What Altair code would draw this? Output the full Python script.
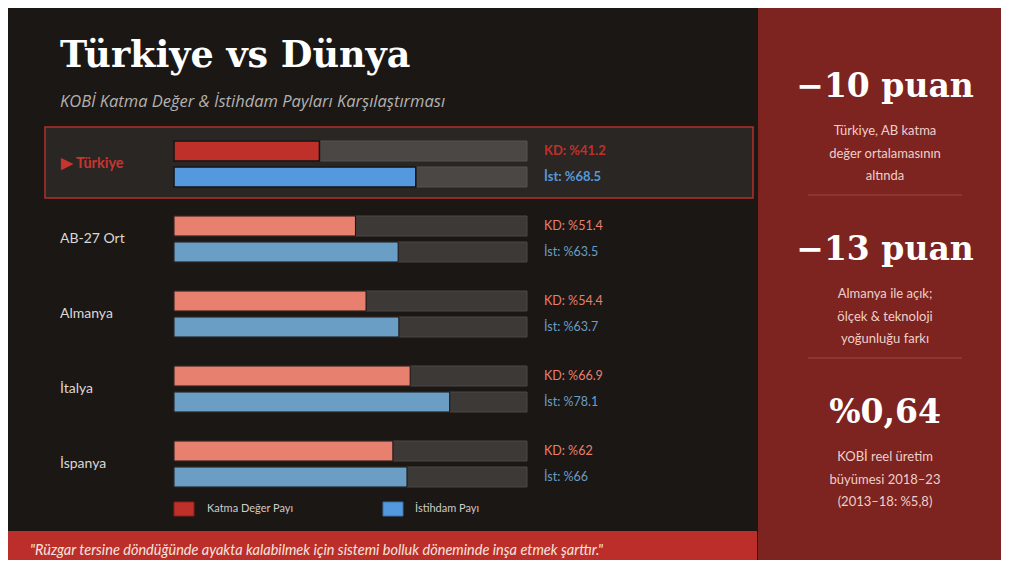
import altair as alt
import pandas as pd

# ---------------- data ----------------
countries = ["Türkiye", "AB-27 Ort", "Almanya", "İtalya", "İspanya"]
row_labels = ["▶ Türkiye", "AB-27 Ort", "Almanya", "İtalya", "İspanya"]
kd_share = [41.2, 51.4, 54.4, 66.9, 62]
ist_share = [68.5, 63.5, 63.7, 78.1, 66]
series = ["KD", "İst"]
legend_labels = ["Katma Değer Payı", "İstihdam Payı"]

title_text = "Türkiye vs Dünya"
subtitle_text = "KOBİ Katma Değer & İstihdam Payları Karşılaştırması"
quote_text = "\"Rüzgar tersine döndüğünde ayakta kalabilmek için sistemi bolluk döneminde inşa etmek şarttır.\""

kpi_values = ["−10 puan", "−13 puan", "%0,64"]
kpi_notes = [
    ["Türkiye, AB katma", "değer ortalamasının", "altında"],
    ["Almanya ile açık;", "ölçek & teknoloji", "yoğunluğu farkı"],
    ["KOBİ reel üretim", "büyümesi 2018–23", "(2013–18: %5,8)"],
]

# ---------------- tables ----------------
rows = []
for c, k, i in zip(countries, kd_share, ist_share):
    hl = c == "Türkiye"
    rows.append(dict(country=c, series="KD", value=k, full=100, hl=hl,
                     key=("KD_tr" if hl else "KD_o"), label=f"KD: %{k:g}"))
    rows.append(dict(country=c, series="İst", value=i, full=100, hl=hl,
                     key=("IST_tr" if hl else "IST_o"), label=f"İst: %{i:g}"))
df = pd.DataFrame(rows)
lab_df = pd.DataFrame({"country": countries, "label": row_labels,
                       "hl": [c == "Türkiye" for c in countries]})

one = pd.DataFrame({"k": [0]})

W, H = 993, 552
OFF = 8  # page margin


def X(x):
    return x - OFF


def Y(y):
    return y - OFF


SANS = "Lato"
SERIF = "DejaVu Serif"

color_scale = alt.Scale(domain=["KD_tr", "IST_tr", "KD_o", "IST_o"],
                        range=["#c0302a", "#5499dd", "#e8806f", "#6a9ec4"])
text_color_scale = alt.Scale(domain=["KD_tr", "IST_tr", "KD_o", "IST_o"],
                             range=["#c8352e", "#5aa0e6", "#e0806c", "#6a9ec4"])
x_scale = alt.Scale(domain=[0, 100], range=[X(174), X(527)], nice=False, zero=True)
y_scale = alt.Scale(domain=countries, range=[Y(126.5), Y(501.5)],
                    paddingInner=0, paddingOuter=0)
yoff_scale = alt.Scale(domain=series, paddingInner=0.2308, paddingOuter=0.5577)


def rect(x1, y1, x2, y2, fill, stroke=None, sw=0):
    kw = dict(fill=fill)
    if stroke:
        kw.update(stroke=stroke, strokeWidth=sw)
    return alt.Chart(one).mark_rect(**kw).encode(
        x=alt.value(X(x1)), x2=alt.value(X(x2)),
        y=alt.value(Y(y1)), y2=alt.value(Y(y2)))


def text(s, x, y, size, color, font=SANS, weight="normal", style="normal", align="left"):
    return alt.Chart(one).mark_text(font=font, fontSize=size, fontWeight=weight,
                                    fontStyle=style, color=color, align=align,
                                    baseline="middle").encode(
        x=alt.value(X(x)), y=alt.value(Y(y)), text=alt.value(s))


def hrule(x1, x2, y, color, sw=1):
    return alt.Chart(one).mark_rule(color=color, strokeWidth=sw).encode(
        x=alt.value(X(x1)), x2=alt.value(X(x2)), y=alt.value(Y(y)))


layers = []
# panels
layers.append(rect(758, 0, 1009 + OFF, 568 + OFF, "#7d2320"))
layers.append(rect(0 - OFF, 531, 757, 568 + OFF, "#bb2e29"))
layers.append(rect(45, 127, 753, 198, "#2a2624", "#b3302b", 1.5))

# titles
layers.append(text(title_text, 60, 56, 36.5, "#ffffff", SERIF, "bold"))
layers.append(text(subtitle_text, 60, 102, 16.5, "#b5b1ae", "Open Sans", "normal", "italic"))

# tracks
base = alt.Chart(df)
enc_common = dict(
    y=alt.Y("country:N", scale=y_scale, axis=None, sort=countries),
    yOffset=alt.YOffset("series:N", scale=yoff_scale, sort=series),
)
layers.append(base.transform_filter("datum.hl").mark_bar(
    fill="#4a4744", stroke="#57534f", strokeWidth=1).encode(
    x=alt.X("full:Q", scale=x_scale, axis=None), **enc_common))
layers.append(base.transform_filter("!datum.hl").mark_bar(
    fill="#3d3937", stroke="#4d4946", strokeWidth=1).encode(
    x=alt.X("full:Q", scale=x_scale, axis=None), **enc_common))

# value bars
layers.append(base.transform_filter("datum.hl").mark_bar(
    stroke="#111111", strokeWidth=1.5).encode(
    x=alt.X("value:Q", scale=x_scale, axis=None),
    color=alt.Color("key:N", scale=color_scale, legend=None), **enc_common))
layers.append(base.transform_filter("!datum.hl").mark_bar(
    stroke="#1a1210", strokeWidth=1).encode(
    x=alt.X("value:Q", scale=x_scale, axis=None),
    color=alt.Color("key:N", scale=color_scale, legend=None), **enc_common))

# value labels
layers.append(base.transform_filter("datum.hl").mark_text(
    font=SANS, fontSize=13, fontWeight="bold", align="left", baseline="middle").encode(
    x=alt.value(X(544)), text="label:N",
    color=alt.Color("key:N", scale=text_color_scale, legend=None), **enc_common))
layers.append(base.transform_filter("!datum.hl").mark_text(
    font=SANS, fontSize=12.5, align="left", baseline="middle").encode(
    x=alt.value(X(544)), text="label:N",
    color=alt.Color("key:N", scale=text_color_scale, legend=None), **enc_common))

# row labels
lab = alt.Chart(lab_df)
layers.append(lab.transform_filter("datum.hl").mark_text(
    font=SANS, fontSize=14.5, fontWeight="bold", color="#c8352e",
    align="left", baseline="middle").encode(
    x=alt.value(X(61)), text="label:N",
    y=alt.Y("country:N", scale=y_scale, axis=None, sort=countries)))
layers.append(lab.transform_filter("!datum.hl").mark_text(
    font=SANS, fontSize=14, color="#dcd8d5", align="left", baseline="middle").encode(
    x=alt.value(X(60)), text="label:N",
    y=alt.Y("country:N", scale=y_scale, axis=None, sort=countries)))

# legend
layers.append(rect(174, 502, 194, 516, "#c0302a", "#8a1f1a", 1))
layers.append(text(legend_labels[0], 207, 509, 11, "#cfcbc8"))
layers.append(rect(383, 502, 403, 516, "#5499dd", "#3a70a8", 1))
layers.append(text(legend_labels[1], 415, 509, 11, "#cfcbc8"))

# quote
layers.append(text(quote_text, 30, 551, 14.5, "#f6e3df", SANS, "normal", "italic"))

# KPI panel
kpi_y = [87, 250, 413]
for idx, (v, notes, yc) in enumerate(zip(kpi_values, kpi_notes, kpi_y)):
    layers.append(text(v, 885, yc, 33, "#ffffff", SERIF, "bold", align="center"))
    for j, line in enumerate(notes):
        layers.append(text(line, 885, yc + 44 + 22.5 * j, 13, "#efcfc9", align="center"))
    if idx < 2:
        layers.append(hrule(808, 962, yc + 108, "#9b4a42", 1))

chart = alt.layer(*layers).properties(
    width=W, height=H, background="#1b1715", padding=0,
    autosize=alt.AutoSizeParams(type="none"),
).configure_view(stroke=None)

chart.save("out.html", embed_options={"renderer": "svg", "actions": False})
